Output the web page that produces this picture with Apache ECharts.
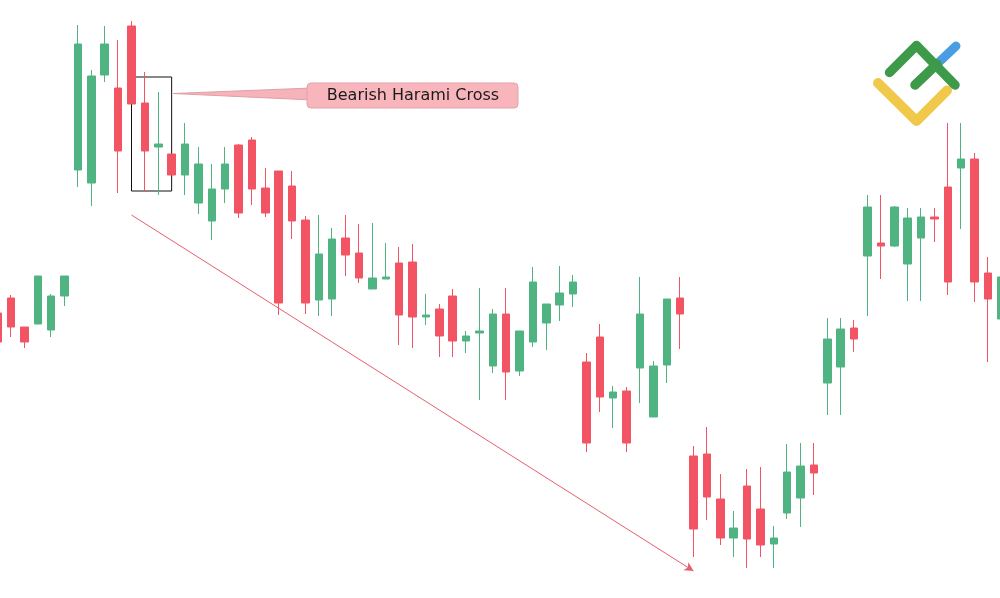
<!DOCTYPE html>
<html>
<head>
<meta charset="utf-8">
<script src="https://cdn.jsdelivr.net/npm/echarts@6/dist/echarts.min.js"></script>
<style>
html,body{margin:0;padding:0;background:#ffffff;overflow:hidden;width:1000px;height:598px;}
#chart{position:absolute;left:-9px;top:0;width:1017px;height:598px;}
</style>
</head>
<body>
<div id="chart"></div>
<script>
// Candle index labels (hidden axis)
const categories = Array.from({length: 76}, (_, i) => 'D' + (i + 1));
// Price values (arbitrary price units)
const opens = [287,302,273,276,270,304,430,417,525,512,
               574,497,453,446,425,397,379,411,455,460,
               412,429,414,380,300,301,362,347,311,321,
               337,338,283,291,304,259,267,234,286,229,
               258,277,295,306,238,263,202,209,232,183,
               235,302,144,146,101,62,114,91,56,87,
               102,135,217,233,272,344,357,354,336,362,
               383,413,432,441,327,281];
const closes = [258,273,258,324,304,324,556,524,556,449,
                496,449,456,425,456,436,411,436,387,411,
                387,297,379,297,346,361,345,322,322,323,
                285,283,285,264,259,264,269,286,228,269,
                318,296,307,318,157,203,208,157,286,234,
                301,286,71,103,62,72,61,55,62,128,
                134,127,261,271,261,393,354,393,382,383,
                381,318,441,318,301,323];
const lows = [252,263,252,276,263,294,413,394,518,407,
              496,408,405,425,405,386,360,397,382,395,
              383,285,361,286,284,284,324,317,311,321,
              255,252,275,243,243,247,200,227,200,224,
              253,250,279,293,148,188,172,148,197,183,
              217,251,43,80,55,43,32,43,32,81,
              73,105,185,185,248,284,321,353,299,299,
              358,305,371,298,238,270];
const highs = [294,305,273,324,306,324,575,530,574,560,
               579,528,508,446,477,453,436,453,456,463,
               432,429,429,384,385,372,385,376,377,357,
               353,356,306,296,311,269,312,291,312,269,
               333,296,334,325,247,276,214,213,323,239,
               301,323,154,173,126,89,131,133,74,156,
               157,157,282,282,280,405,405,394,392,392,
               392,477,477,447,343,330];
// Annotations (in data units)
const patternBox = {from: 10, to: 13, high: 523, low: 409};
const trendLine = {from: 10, fromPrice: 385, to: 52, toPrice: 29};
const patternLabel = 'Bearish Harami Cross';

const candleData = opens.map((o, i) => [o, closes[i], lows[i], highs[i]]);

const GREEN = '#50b482';
const RED = '#f35464';
const OX = 9; // canvas is shifted 9px left of the window

const chart = echarts.init(document.getElementById('chart'), null, {renderer: 'canvas'});
chart.setOption({
  backgroundColor: '#ffffff',
  animation: false,
  grid: {left: 0, right: 0, top: 0, bottom: 0, containLabel: false},
  xAxis: {
    type: 'category', data: categories, boundaryGap: true,
    show: false
  },
  yAxis: {
    type: 'value', min: 2, max: 600, show: false, splitLine: {show: false}
  },
  series: [{
    type: 'candlestick',
    data: candleData,
    barWidth: 8,
    clip: false,
    itemStyle: {
      color: GREEN, color0: RED,
      borderColor: GREEN, borderColor0: RED,
      borderWidth: 1
    },
    markArea: {
      silent: true,
      itemStyle: {color: 'rgba(0,0,0,0)', borderColor: '#111111', borderWidth: 1},
      data: [[
        {xAxis: categories[patternBox.from], yAxis: patternBox.high},
        {xAxis: categories[patternBox.to], yAxis: patternBox.low}
      ]]
    },
    markLine: {
      silent: true,
      symbol: ['none', 'arrow'],
      symbolSize: [7, 9],
      label: {show: false},
      lineStyle: {color: '#e4606f', width: 1, type: 'solid'},
      data: [[
        {coord: [categories[trendLine.from], trendLine.fromPrice]},
        {coord: [categories[trendLine.to], trendLine.toPrice]}
      ]]
    }
  }],
  graphic: [
    // callout pointer
    {type: 'polygon', z: 100, shape: {points: [[OX + 173, 93.5], [OX + 312, 88], [OX + 312, 100]]},
     style: {fill: '#f6b3ba', stroke: '#dfa0a6', lineWidth: 1}},
    // callout box
    {type: 'rect', z: 101, shape: {x: OX + 307, y: 83, width: 211, height: 25, r: 4},
     style: {fill: '#f8b5bc', stroke: '#e3a2a9', lineWidth: 1}},
    {type: 'text', z: 102, x: OX + 413, y: 96,
     style: {text: patternLabel, fill: '#1b1b1b', font: '16px "DejaVu Sans", sans-serif',
             align: 'center', verticalAlign: 'middle'}},
    // logo
    {type: 'polyline', z: 110, shape: {points: [[OX + 878, 83], [OX + 916.5, 121], [OX + 947, 90.5]]},
     style: {stroke: '#f0c84a', lineWidth: 10, lineCap: 'round', lineJoin: 'round', fill: null}},
    {type: 'polyline', z: 110, shape: {points: [[OX + 937, 64], [OX + 956, 46]]},
     style: {stroke: '#4a9de2', lineWidth: 9, lineCap: 'round', fill: null}},
    {type: 'polyline', z: 111, shape: {points: [[OX + 889.5, 72.5], [OX + 916.5, 45.5], [OX + 955, 85]]},
     style: {stroke: '#3d9a49', lineWidth: 9.5, lineCap: 'round', lineJoin: 'round', fill: null}},
    {type: 'polyline', z: 111, shape: {points: [[OX + 915, 85], [OX + 937, 64]]},
     style: {stroke: '#3d9a49', lineWidth: 9.5, lineCap: 'round', fill: null}}
  ]
});
</script>
</body>
</html>
